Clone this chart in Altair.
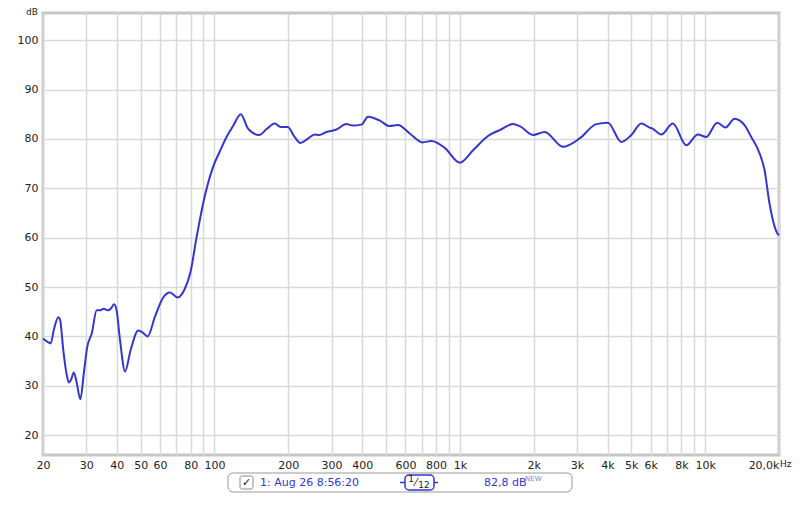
import altair as alt
import pandas as pd

# Frequency response (Hz, dB)
freq = [20, 20.9, 21.5, 22.2, 23.1, 23.5, 24.2, 25.0, 25.5, 26.0, 26.7, 27.4, 28.4, 29.4,
        30.3, 31.6, 33.1, 34.0, 35.4, 36.9, 38.0, 39.0, 39.9, 41.2, 43.2, 45.5, 48.9,
        51.0, 53.4, 57.2, 61.8, 65.8, 70.8, 75.3, 79.9, 84.6, 90.5, 98.8, 105, 112,
        119, 128, 137, 152, 164, 176, 186, 199, 212, 224, 241, 256, 267, 286, 314,
        345, 367, 397, 423, 472, 518, 560, 625, 704, 766, 868, 999, 1132, 1303,
        1454, 1647, 1754, 1987, 2218, 2633, 3079, 3601, 4016, 4550, 5000, 5492,
        5936, 6100, 6624, 7386, 8375, 9339, 10104, 11194, 12100, 13175, 14470,
        15410, 16660, 17460, 18300, 18880, 19680, 20000]
db = [39.6, 38.9, 38.6, 41.6, 43.9, 43.3, 37.2, 32.2, 30.7, 31.2, 32.7, 30.8, 27.3, 33.0,
      37.9, 40.6, 45.3, 45.3, 45.6, 45.3, 45.8, 46.5, 45.3, 39.3, 32.9, 37.2, 41.2,
      40.8, 40.0, 44.0, 47.9, 48.9, 47.9, 49.4, 53.1, 60.2, 67.6, 74.4, 77.4, 80.4,
      82.6, 85.0, 82.1, 80.8, 82.1, 83.1, 82.4, 82.4, 80.4, 79.2, 80.1, 80.9, 80.8, 81.4, 81.9,
      83.0, 82.7, 82.9, 84.5, 83.7, 82.6, 82.8, 81.1, 79.3, 79.6, 78.2, 75.2, 77.7, 80.6,
      81.8, 83.0, 82.6, 80.8, 81.4, 78.4, 80.1, 83.0, 83.3, 79.4, 80.8, 83.1,
      82.3, 82.1, 80.9, 83.1, 78.7, 80.9, 80.4, 83.3, 82.3, 84.1, 82.8,
      80.4, 77.1, 73.7, 66.9, 63.6, 60.9, 60.5]

x_grid = [20, 30, 40, 50, 60, 70, 80, 90, 100, 200, 300, 400, 500, 600, 700, 800, 900,
          1000, 2000, 3000, 4000, 5000, 6000, 7000, 8000, 9000, 10000, 20000]
x_label_vals = [20, 30, 40, 50, 60, 80, 100, 200, 300, 400, 600, 800, 1000, 2000, 3000,
                4000, 5000, 6000, 8000, 10000, 20000]
x_label_txt = ["20", "30", "40", "50", "60", "80", "100", "200", "300", "400", "600", "800",
               "1k", "2k", "3k", "4k", "5k", "6k", "8k", "10k", "20,0k"]
y_ticks = [20, 30, 40, 50, 60, 70, 80, 90, 100]

legend_name = "1: Aug 26 8:56:20"
legend_level = "82,8 dB"

df = pd.DataFrame({"f": freq, "db": db})

label_expr = ""
for v, t in zip(x_label_vals, x_label_txt):
    label_expr += f"datum.value == {v} ? '{t}' : "
label_expr += "''"

FONT = "DejaVu Sans"
BLUE = "#3535cf"

line = alt.Chart(df).mark_line(color=BLUE, strokeWidth=2, interpolate="monotone").encode(
    x=alt.X("f:Q", scale=alt.Scale(type="log", domain=[20, 20000], nice=False),
            axis=alt.Axis(values=x_grid, labelExpr=label_expr, title=None, ticks=False,
                          domain=False, gridColor="#d9d9d9", gridWidth=1.5,
                          labelFont=FONT, labelFontSize=11, labelColor="#222",
                          labelPadding=4, labelOverlap=False, labelFlush=False,
                          labelAlign={"condition": {"test": "datum.value >= 20000", "value": "right"},
                                      "value": "center"})),
    y=alt.Y("db:Q", scale=alt.Scale(domain=[16, 105.5], nice=False, zero=False),
            axis=alt.Axis(values=y_ticks, title=None, ticks=False, domain=False,
                          gridColor="#d9d9d9", gridWidth=1.5, labelFont=FONT,
                          labelFontSize=11, labelColor="#222", labelPadding=5)),
)

def txt(s, x, y, size=11, color="#222", align="left", baseline="middle"):
    return alt.Chart(pd.DataFrame({"t": [s]})).mark_text(
        font=FONT, fontSize=size, color=color, align=align, baseline=baseline
    ).encode(text="t:N", x=alt.value(x), y=alt.value(y))

def box(x, x2, y, y2, stroke, fill="white", sw=1, r=4):
    return alt.Chart(pd.DataFrame({"a": [0]})).mark_rect(
        fill=fill, stroke=stroke, strokeWidth=sw, cornerRadius=r
    ).encode(x=alt.value(x), x2=alt.value(x2), y=alt.value(y), y2=alt.value(y2))

def hline(x, x2, y, color, sw=1.5):
    return alt.Chart(pd.DataFrame({"a": [0]})).mark_rule(color=color, strokeWidth=sw).encode(
        x=alt.value(x), x2=alt.value(x2), y=alt.value(y))

layers = [
    line,
    txt("dB", -5, -5, size=9, color="#222", align="right", baseline="top"),
    txt("Hz", 737, 451, size=9, color="#222", align="left", baseline="middle"),
    box(185, 529, 460, 479, "#999999", r=5),
    box(197, 210, 463, 476, "#8a8a8a", r=2),
    txt("\u2713", 203.5, 470, size=11, color="#222", align="center"),
    txt(legend_name, 217, 469.5, size=11, color=BLUE),
    hline(357, 363, 469.5, BLUE),
    hline(390, 395, 469.5, BLUE),
    box(362, 391, 462, 477, BLUE, sw=1.5, r=4),
    txt("1", 368, 466, size=9, color="#222", align="center"),
    txt("\u2044", 373, 469.5, size=11, color="#222", align="center"),
    txt("12", 381, 472, size=9, color="#222", align="center"),
    txt(legend_level, 441, 469.5, size=11, color=BLUE),
    txt("NEW", 482, 466, size=7, color="#7f7fe0"),
]

chart = alt.layer(*layers).properties(
    width=736, height=442,
    autosize=alt.AutoSizeParams(type="none"),
    padding={"left": 35, "top": 5, "right": 13, "bottom": 38},
    background="white",
).configure_view(stroke="#c6c6c6", strokeWidth=3)

chart.save("out.html", embed_options={"renderer": "svg", "actions": False})
